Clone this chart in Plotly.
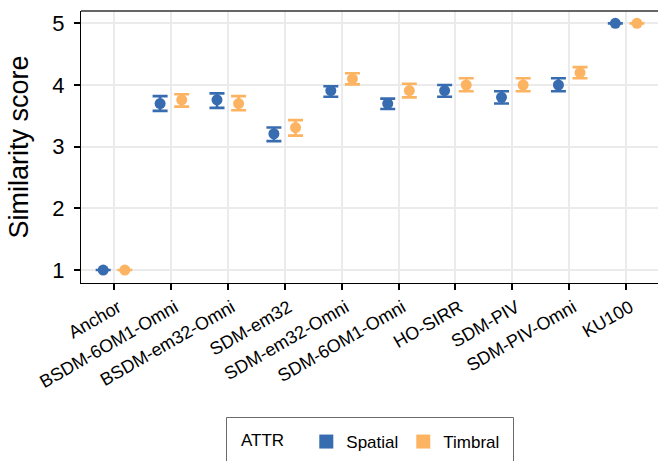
import plotly.graph_objects as go

# Rendering systems compared in the listening test
systems = ["Anchor", "BSDM-6OM1-Omni", "BSDM-em32-Omni", "SDM-em32", "SDM-em32-Omni",
           "SDM-6OM1-Omni", "HO-SIRR", "SDM-PIV", "SDM-PIV-Omni", "KU100"]

# Spatial attribute: centre value and interval bounds
spatial_mid = [1.0, 3.70, 3.76, 3.21, 3.91, 3.70, 3.91, 3.80, 4.00, 5.0]
spatial_lo = [1.0, 3.58, 3.63, 3.09, 3.81, 3.61, 3.81, 3.70, 3.90, 5.0]
spatial_hi = [1.0, 3.82, 3.865, 3.31, 3.98, 3.78, 4.00, 3.90, 4.11, 5.0]

# Timbral attribute: centre value and interval bounds
timbral_mid = [1.0, 3.76, 3.70, 3.31, 4.10, 3.91, 4.00, 4.00, 4.20, 5.0]
timbral_lo = [1.0, 3.65, 3.59, 3.18, 4.01, 3.80, 3.90, 3.90, 4.11, 5.0]
timbral_hi = [1.0, 3.85, 3.82, 3.43, 4.19, 4.02, 4.11, 4.11, 4.29, 5.0]

y_ticks = [1, 2, 3, 4, 5]

BLUE = "#386CB0"
ORANGE = "#FDB462"
FONT = "Liberation Sans, Arial, Helvetica, sans-serif"
DODGE = 0.19

# plot area in pixels
W, H = 658, 461
L, T, B = 81, 11, 178
PW, PH = W - L, H - T - B


def px_x(p):
    return (p - L) / PW


def px_y(p):
    return (H - B - p) / PH


fig = go.Figure()


def add_series(name, mid, lo, hi, color, shift):
    xs = [i + shift for i in range(len(systems))]
    fig.add_trace(go.Scatter(
        x=xs, y=mid, mode="markers", name=name, showlegend=False,
        marker=dict(color=color, size=11, line=dict(width=0)),
        error_y=dict(type="data", symmetric=False,
                     array=[h - m for h, m in zip(hi, mid)],
                     arrayminus=[m - l for m, l in zip(mid, lo)],
                     color=color, thickness=2.6, width=7.5),
        hovertext=systems,
    ))
    # square key for the legend
    fig.add_trace(go.Scatter(
        x=[None], y=[None], mode="markers", name=name,
        marker=dict(color=color, size=14, symbol="square", line=dict(width=0)),
    ))


add_series("Spatial", spatial_mid, spatial_lo, spatial_hi, BLUE, -DODGE)
add_series("Timbral", timbral_mid, timbral_lo, timbral_hi, ORANGE, DODGE)

fig.update_layout(
    width=W, height=H,
    margin=dict(l=L, r=0, t=T, b=B),
    paper_bgcolor="white", plot_bgcolor="white",
    font=dict(family=FONT, color="black"),
    showlegend=True,
    legend=dict(
        orientation="h", x=px_x(239), xanchor="left", y=px_y(424), yanchor="top",
        borderwidth=0, bgcolor="rgba(0,0,0,0)",
        font=dict(size=17, family=FONT),
        title=dict(text="ATTR   ", font=dict(size=17, family=FONT)),
        itemwidth=30,
    ),
    xaxis=dict(
        range=[-0.58, 9.56],
        tickmode="array", tickvals=list(range(len(systems))), ticktext=systems,
        tickangle=-30, tickfont=dict(size=18, family=FONT),
        ticklabelshift=4,
        showgrid=True, gridcolor="#EBEBEB", gridwidth=2.2,
        showline=True, linecolor="black", linewidth=1.3,
        ticks="outside", ticklen=6, tickwidth=2.4, tickcolor="black",
        zeroline=False,
    ),
    yaxis=dict(
        range=[0.79, 5.2],
        tickmode="array", tickvals=y_ticks, ticktext=[str(v) for v in y_ticks],
        tickfont=dict(size=22, family=FONT),
        ticklabelstandoff=5,
        showgrid=True, gridcolor="#EBEBEB", gridwidth=2.2,
        showline=True, linecolor="black", linewidth=1.3,
        ticks="outside", ticklen=6, tickwidth=2.4, tickcolor="black",
        zeroline=False,
        title=dict(text="Similarity score", font=dict(size=27, family=FONT), standoff=15),
    ),
    shapes=[
        # top edge of the panel
        dict(type="line", xref="paper", yref="paper", x0=0, x1=1, y0=1, y1=1,
             line=dict(color="#333333", width=1.3)),
        # frame around the legend
        dict(type="rect", xref="paper", yref="paper",
             x0=px_x(226.5), x1=px_x(513.5), y0=px_y(417.5), y1=px_y(475),
             line=dict(color="#6b6b6b", width=1), fillcolor="rgba(0,0,0,0)"),
    ],
)

fig.write_html("out.html")
